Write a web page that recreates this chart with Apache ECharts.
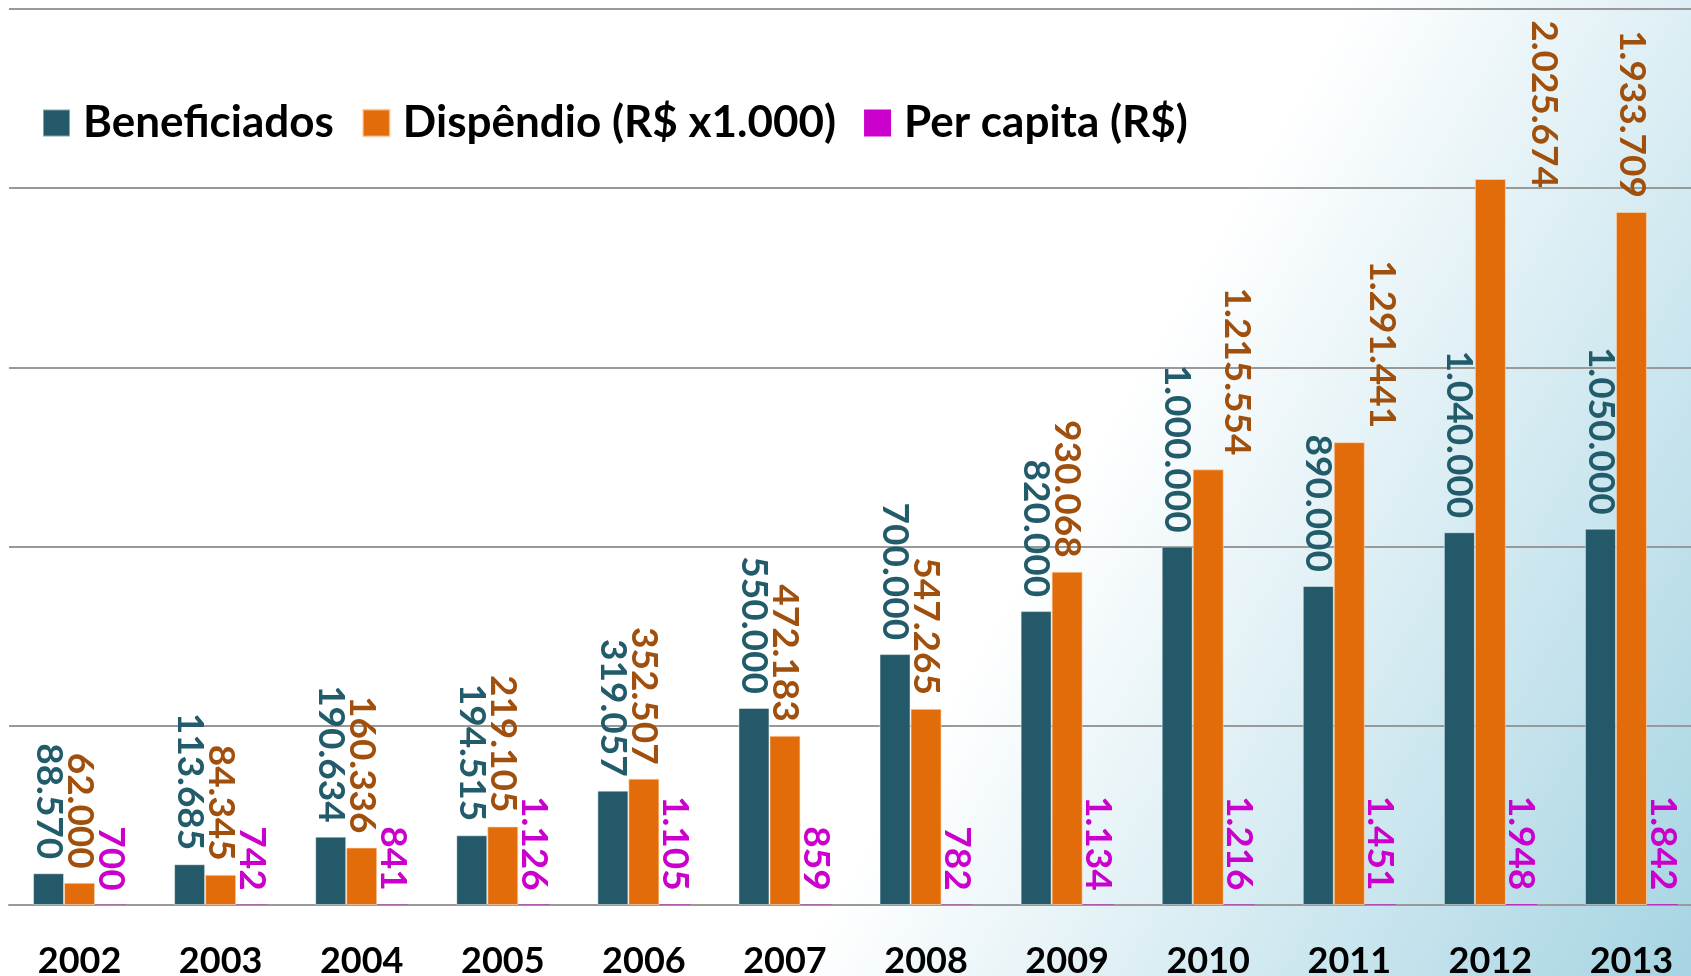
<!DOCTYPE html>
<html>
<head>
<meta charset="utf-8">
<script src="https://cdn.jsdelivr.net/npm/echarts@6/dist/echarts.min.js"></script>
<style>
html, body { margin: 0; padding: 0; }
#chart { width: 1691px; height: 976px; }
</style>
</head>
<body>
<div id="chart"></div>
<script>
// dados da tabela
var anos = ['2002', '2003', '2004', '2005', '2006', '2007', '2008', '2009', '2010', '2011', '2012', '2013'];
var beneficiados = [88570, 113685, 190634, 194515, 319057, 550000, 700000, 820000, 1000000, 890000, 1040000, 1050000];
var dispendio = [62000, 84345, 160336, 219105, 352507, 472183, 547265, 930068, 1215554, 1291441, 2025674, 1933709];
var perCapita = [700, 742, 841, 1126, 1105, 859, 782, 1134, 1216, 1451, 1948, 1842];

var nomes = ['Beneficiados', 'Dispêndio (R$ x1.000)', 'Per capita (R$)'];

// separador de milhar com ponto
function fmt(v) {
    return String(v).replace(/\B(?=(\d{3})+(?!\d))/g, '.');
}

function rotulo(cor) {
    return {
        show: true,
        position: 'top',
        distance: 14,
        rotate: -90,
        align: 'right',
        verticalAlign: 'middle',
        color: cor,
        fontFamily: 'Lato',
        fontWeight: 'bold',
        fontSize: 37,
        formatter: function (p) { return fmt(p.value); }
    };
}

// alguns rótulos laranja deslocados para o lado, como no original
var deslocamento = { 8: [0, -29], 9: [0, -33], 10: [23, -54] };
var dispendioData = dispendio.map(function (v, i) {
    if (deslocamento[i]) {
        return { value: v, label: { offset: deslocamento[i] } };
    }
    return v;
});

var myChart = echarts.init(document.getElementById('chart'));

var option = {
    backgroundColor: {
        type: 'linear', x: 0, y: 0, x2: 1, y2: 1,
        colorStops: [
            { offset: 0, color: '#ffffff' },
            { offset: 0.6, color: '#ffffff' },
            { offset: 1, color: '#a6d4e3' }
        ]
    },
    animation: false,
    legend: {
        left: 37,
        top: 96,
        icon: 'rect',
        itemWidth: 27,
        itemHeight: 27,
        itemGap: 28,
        textStyle: {
            fontFamily: 'Lato',
            fontWeight: 'bold',
            fontSize: 44,
            color: '#000',
            padding: [0, 0, 0, 8]
        },
        data: nomes
    },
    grid: { left: 9, top: 9, width: 1693, height: 896, outerBoundsMode: 'none' },
    xAxis: {
        type: 'category',
        data: anos,
        axisLine: { lineStyle: { color: '#999', width: 2 } },
        axisTick: { length: 15, lineStyle: { color: '#999', width: 2 } },
        axisLabel: {
            margin: 38,
            color: '#000',
            fontFamily: 'Lato',
            fontWeight: 'bold',
            fontSize: 36
        }
    },
    yAxis: {
        type: 'value',
        min: 0,
        max: 2500000,
        interval: 500000,
        axisLabel: { show: false },
        axisLine: { show: false },
        axisTick: { show: false },
        splitLine: { lineStyle: { color: '#999', width: 2 } }
    },
    series: [
        {
            name: nomes[0],
            type: 'bar',
            barGap: 0,
            barWidth: 31,
            itemStyle: { color: '#235968', borderColor: 'rgba(255,255,255,0.45)', borderWidth: 1 },
            label: rotulo('#225c6b'),
            data: beneficiados
        },
        {
            name: nomes[1],
            type: 'bar',
            barGap: 0,
            barWidth: 31,
            itemStyle: { color: '#e36c0a', borderColor: 'rgba(255,220,190,0.6)', borderWidth: 1 },
            label: rotulo('#a0500c'),
            data: dispendioData
        },
        {
            name: nomes[2],
            type: 'bar',
            barGap: 0,
            barWidth: 31,
            itemStyle: { color: '#cc00cc' },
            label: rotulo('#cc00cc'),
            data: perCapita
        }
    ]
};
myChart.setOption(option);
</script>
</body>
</html>
